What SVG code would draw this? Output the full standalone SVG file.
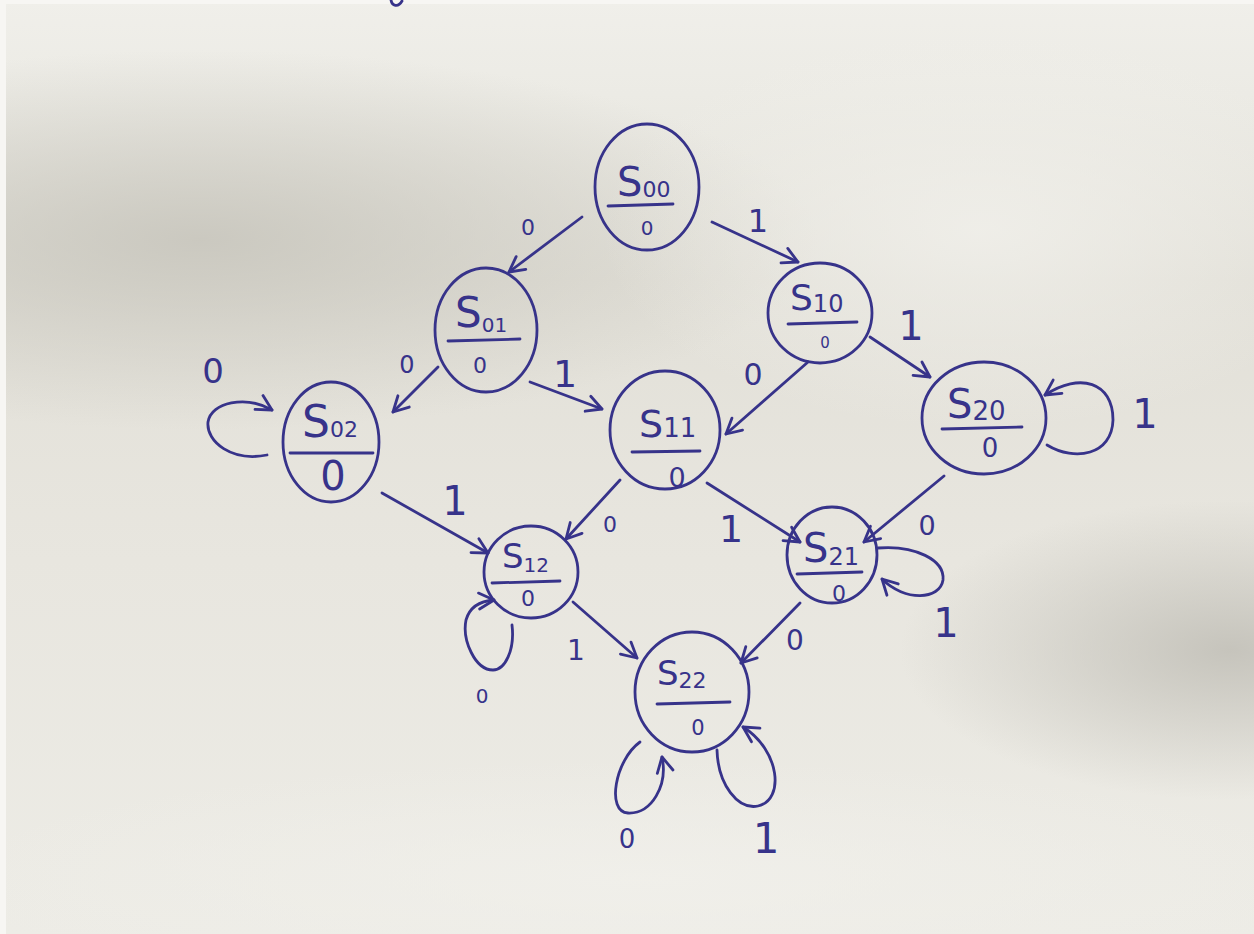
<svg xmlns="http://www.w3.org/2000/svg" width="1254" height="934" viewBox="0 0 1254 934">
  <defs>
    <style>
      .ink { stroke: #37338a; stroke-width: 2.8; fill: none; stroke-linecap: round; stroke-linejoin: round; }
      .edge { stroke: #37338a; stroke-width: 2.8; fill: none; stroke-linecap: round; marker-end: url(#arrow); }
      .t { font-family: "DejaVu Sans", "Liberation Sans", sans-serif; fill: #37338a; }
      .lbl { font-family: "DejaVu Sans", "Liberation Sans", sans-serif; fill: #37338a; text-anchor: middle; }
    </style>
    <marker id="arrow" viewBox="0 0 20 20" refX="18" refY="10" markerWidth="20" markerHeight="20" markerUnits="userSpaceOnUse" orient="auto">
      <path d="M3,2 L18,10 L3,18" fill="none" stroke="#37338a" stroke-width="2.8" stroke-linecap="round" stroke-linejoin="round"/>
    </marker>
    <linearGradient id="paper" x1="0" y1="0" x2="0" y2="1">
      <stop offset="0" stop-color="#f0efea"/>
      <stop offset="0.1" stop-color="#ecebe5"/>
      <stop offset="0.3" stop-color="#e2e0d8"/>
      <stop offset="0.6" stop-color="#e8e6df"/>
      <stop offset="1" stop-color="#edece6"/>
    </linearGradient>
    <radialGradient id="shadeLeft" cx="0.5" cy="0.5" r="0.5">
      <stop offset="0" stop-color="#c6c4bb" stop-opacity="0.85"/>
      <stop offset="1" stop-color="#c6c4bb" stop-opacity="0"/>
    </radialGradient>
    <radialGradient id="shadeRight" cx="0.5" cy="0.5" r="0.5">
      <stop offset="0" stop-color="#c2c0b8" stop-opacity="0.9"/>
      <stop offset="1" stop-color="#c2c0b8" stop-opacity="0"/>
    </radialGradient>
    <radialGradient id="light" cx="0.5" cy="0.5" r="0.5">
      <stop offset="0" stop-color="#f1f0eb" stop-opacity="0.8"/>
      <stop offset="1" stop-color="#f1f0eb" stop-opacity="0"/>
    </radialGradient>
  </defs>

  <!-- paper and lighting -->
  <rect x="0" y="0" width="1254" height="934" fill="url(#paper)"/>
  <ellipse cx="200" cy="240" rx="620" ry="190" fill="url(#shadeLeft)"/>
  <ellipse cx="1230" cy="650" rx="330" ry="150" fill="url(#shadeRight)"/>
  <ellipse cx="980" cy="230" rx="380" ry="200" fill="url(#light)"/>
  <ellipse cx="640" cy="880" rx="700" ry="120" fill="url(#light)"/>
  <rect x="0" y="0" width="6" height="934" fill="#f7f6f3"/>
  <rect x="0" y="0" width="1254" height="4" fill="#f7f6f3"/>

  <!-- stray pen stroke at the top edge -->
  <path class="ink" d="M391,0 C392,6 398,8 402,1"/>

  <!-- connectors -->
  <g id="connectors">
    <path class="edge" d="M582,217 L509,272"/>
    <path class="edge" d="M712,222 L798,262"/>
    <path class="edge" d="M438,367 L393,412"/>
    <path class="edge" d="M530,382 L602,409"/>
    <path class="edge" d="M808,362 L726,434"/>
    <path class="edge" d="M870,337 L930,377"/>
    <path class="edge" d="M382,493 L488,553"/>
    <path class="edge" d="M620,480 L566,539"/>
    <path class="edge" d="M707,483 L800,542"/>
    <path class="edge" d="M944,476 L864,542"/>
    <path class="edge" d="M573,602 L637,658"/>
    <path class="edge" d="M800,603 L741,663"/>
    <!-- self loops -->
    <path class="edge" d="M267,455 C232,462 206,442 208,422 C211,402 246,395 272,410"/>
    <path class="edge" d="M1047,445 C1075,462 1112,455 1113,420 C1113,382 1080,372 1045,395"/>
    <path class="edge" d="M878,548 C915,545 945,560 943,580 C940,600 905,602 882,579"/>
    <path class="edge" d="M512,625 C515,650 505,670 493,670 C475,670 462,640 466,620 C470,606 480,601 494,600"/>
    <path class="edge" d="M640,742 C615,760 606,812 628,813 C652,814 668,785 662,757"/>
    <path class="edge" d="M717,750 C718,785 738,810 758,806 C785,800 780,750 743,727"/>
  </g>

  <!-- edge labels -->
  <g id="edge-labels">
    <text class="lbl" x="528" y="235" font-size="22">0</text>
    <text class="lbl" x="758" y="232" font-size="32">1</text>
    <text class="lbl" x="407" y="373" font-size="24">0</text>
    <text class="lbl" x="565" y="387" font-size="38">1</text>
    <text class="lbl" x="753" y="385" font-size="30">0</text>
    <text class="lbl" x="911" y="340" font-size="40">1</text>
    <text class="lbl" x="1145" y="428" font-size="40">1</text>
    <text class="lbl" x="213" y="383" font-size="34">0</text>
    <text class="lbl" x="455" y="515" font-size="40">1</text>
    <text class="lbl" x="610" y="532" font-size="22">0</text>
    <text class="lbl" x="731" y="542" font-size="38">1</text>
    <text class="lbl" x="927" y="535" font-size="27">0</text>
    <text class="lbl" x="946" y="637" font-size="40">1</text>
    <text class="lbl" x="482" y="703" font-size="20">0</text>
    <text class="lbl" x="576" y="660" font-size="28">1</text>
    <text class="lbl" x="795" y="650" font-size="28">0</text>
    <text class="lbl" x="627" y="848" font-size="26">0</text>
    <text class="lbl" x="766" y="853" font-size="42">1</text>
  </g>

  <!-- states: name over output -->
  <g id="S00">
    <ellipse class="ink" cx="647" cy="187" rx="52" ry="63"/>
    <text class="t" x="617" y="196" font-size="40">S<tspan font-size="22" dy="1">00</tspan></text>
    <path class="ink" d="M608,206 L673,204"/>
    <text class="lbl" x="647" y="235" font-size="20">0</text>
  </g>
  <g id="S01">
    <ellipse class="ink" cx="486" cy="330" rx="51" ry="62"/>
    <text class="t" x="455" y="327" font-size="42">S<tspan font-size="20" dy="5">01</tspan></text>
    <path class="ink" d="M448,341 L520,339"/>
    <text class="lbl" x="480" y="373" font-size="22">0</text>
  </g>
  <g id="S10">
    <ellipse class="ink" cx="820" cy="313" rx="52" ry="50"/>
    <text class="t" x="790" y="310" font-size="36">S<tspan font-size="24" dy="2">10</tspan></text>
    <path class="ink" d="M788,324 L857,322"/>
    <text class="lbl" x="825" y="348" font-size="15">0</text>
  </g>
  <g id="S02">
    <ellipse class="ink" cx="331" cy="442" rx="48" ry="60"/>
    <text class="t" x="302" y="437" font-size="44">S<tspan font-size="22">02</tspan></text>
    <path class="ink" d="M290,453 L373,453"/>
    <text class="lbl" x="333" y="490" font-size="40">0</text>
  </g>
  <g id="S11">
    <ellipse class="ink" cx="665" cy="430" rx="55" ry="59"/>
    <text class="t" x="639" y="437" font-size="38">S<tspan font-size="26">11</tspan></text>
    <path class="ink" d="M632,452 L700,451"/>
    <text class="lbl" x="677" y="487" font-size="27">0</text>
  </g>
  <g id="S20">
    <ellipse class="ink" cx="984" cy="418" rx="62" ry="56"/>
    <text class="t" x="947" y="418" font-size="40">S<tspan font-size="26" dy="2">20</tspan></text>
    <path class="ink" d="M942,429 L1022,427"/>
    <text class="lbl" x="990" y="457" font-size="26">0</text>
  </g>
  <g id="S12">
    <ellipse class="ink" cx="531" cy="572" rx="47" ry="46"/>
    <text class="t" x="502" y="568" font-size="34">S<tspan font-size="20" dy="4">12</tspan></text>
    <path class="ink" d="M492,583 L560,581"/>
    <text class="lbl" x="528" y="606" font-size="22">0</text>
  </g>
  <g id="S21">
    <ellipse class="ink" cx="832" cy="555" rx="45" ry="48"/>
    <text class="t" x="803" y="562" font-size="40">S<tspan font-size="24" dy="3">21</tspan></text>
    <path class="ink" d="M797,574 L862,572"/>
    <text class="lbl" x="839" y="601" font-size="22">0</text>
  </g>
  <g id="S22">
    <ellipse class="ink" cx="692" cy="692" rx="57" ry="60"/>
    <text class="t" x="657" y="685" font-size="34">S<tspan font-size="22" dy="3">22</tspan></text>
    <path class="ink" d="M657,704 L730,702"/>
    <text class="lbl" x="698" y="735" font-size="21">0</text>
  </g>
</svg>
